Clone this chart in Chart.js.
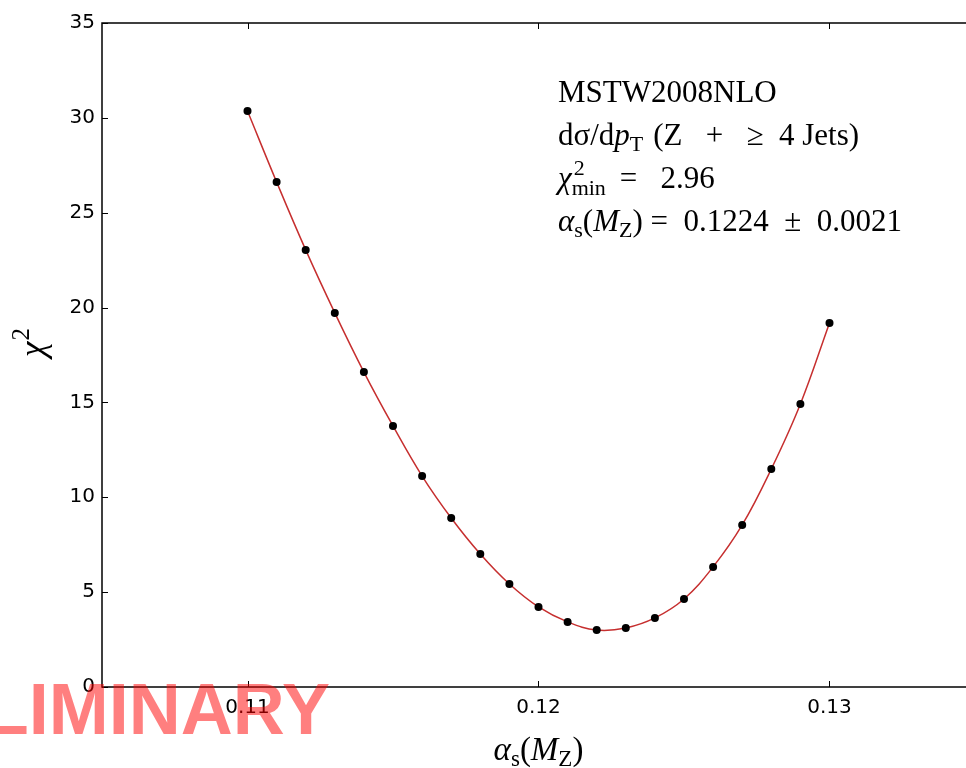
<!DOCTYPE html>
<html>
<head>
<meta charset="utf-8">
<script src="https://cdn.jsdelivr.net/npm/chart.js@4/dist/chart.umd.min.js"></script>
<style>
  html, body { margin: 0; padding: 0; background: #ffffff; overflow: hidden; }
  #wrap { width: 1000px; height: 768px; }
  canvas { display: block; }
</style>
</head>
<body>
<div id="wrap"><canvas id="c" width="1000" height="768"></canvas></div>
<script>
// ---- data ----
const alphaS = [0.110, 0.111, 0.112, 0.113, 0.114, 0.115, 0.116, 0.117, 0.118, 0.119, 0.120,
                0.121, 0.122, 0.123, 0.124, 0.125, 0.126, 0.127, 0.128, 0.129, 0.130];
const chi2   = [30.36, 26.62, 23.04, 19.72, 16.60, 13.76, 11.12, 8.91, 7.01, 5.43, 4.22,
                3.43, 3.00, 3.11, 3.64, 4.64, 6.33, 8.54, 11.49, 14.92, 19.19];
const xTickValues = [0.11, 0.12, 0.13];
const xTickLabels = ['0.11', '0.12', '0.13'];
const yTickValues = [0, 5, 10, 15, 20, 25, 30, 35];
const yTickLabels = ['0', '5', '10', '15', '20', '25', '30', '35'];
const xRange = [0.105, 0.135];
const yRange = [0, 35];
const infoTitle = 'MSTW2008NLO';
const chi2Min = '2.96';
const alphaFit = '0.1224';
const alphaErr = '0.0021';
const watermark = 'PRELIMINARY';

const points = alphaS.map((x, i) => ({ x: x, y: chi2[i] }));

const SERIF = '"Liberation Serif", "DejaVu Serif", serif';

function drawRuns(ctx, x, y, runs, base, align) {
  let total = 0;
  const fontOf = r => (r.it ? 'italic ' : '') + Math.round(base * (r.s || 1)) + 'px ' + SERIF;
  runs.forEach(r => { ctx.font = fontOf(r); r._w = ctx.measureText(r.t).width; if (!r.na) total += r._w + (r.gap || 0); });
  let cx = align === 'center' ? x - total / 2 : x;
  ctx.textAlign = 'left';
  ctx.textBaseline = 'alphabetic';
  runs.forEach(r => {
    ctx.font = fontOf(r);
    ctx.fillText(r.t, cx + (r.dx || 0), y + (r.dy || 0));
    if (!r.na) cx += r._w + (r.gap || 0);
  });
}

const decorPlugin = {
  id: 'decor',
  afterDatasetsDraw(chart) {
    const ctx = chart.ctx;
    const a = chart.chartArea;
    const xs = chart.scales.x, ys = chart.scales.y;
    ctx.save();
    // frame
    ctx.strokeStyle = '#000';
    ctx.lineWidth = 1.5;
    ctx.strokeRect(a.left, a.top, a.right - a.left, a.bottom - a.top);
    // inward ticks on all four sides
    ctx.lineWidth = 1;
    ctx.beginPath();
    const tl = 6;
    xTickValues.forEach(v => {
      const px = Math.round(xs.getPixelForValue(v)) + 0.5;
      ctx.moveTo(px, a.bottom); ctx.lineTo(px, a.bottom - tl);
      ctx.moveTo(px, a.top); ctx.lineTo(px, a.top + tl);
    });
    yTickValues.forEach(v => {
      const py = Math.round(ys.getPixelForValue(v)) + 0.5;
      ctx.moveTo(a.left, py); ctx.lineTo(a.left + tl, py);
      ctx.moveTo(a.right, py); ctx.lineTo(a.right - tl, py);
    });
    ctx.stroke();

    // info text block
    ctx.fillStyle = '#000';
    const B = 31, x0 = 558;
    drawRuns(ctx, x0, 102, [{ t: infoTitle }], B);
    drawRuns(ctx, x0, 145, [
      { t: 'dσ/d' }, { t: 'p', it: true }, { t: 'T', s: 0.7, dy: 6, gap: 10 },
      { t: '(Z   +   ≥  4 Jets)' }
    ], B);
    drawRuns(ctx, x0, 188, [
      { t: 'χ', it: true }, { t: '2', s: 0.7, dy: -13, na: true, dx: 2 },
      { t: 'min', s: 0.7, dy: 7, gap: 14 }, { t: '=   ' + chi2Min }
    ], B);
    drawRuns(ctx, x0, 231, [
      { t: 'α', it: true }, { t: 's', s: 0.7, dy: 6 }, { t: '(' }, { t: 'M', it: true },
      { t: 'Z', s: 0.7, dy: 6 }, { t: ') =  ' + alphaFit + '  ±  ' + alphaErr }
    ], B);

    // x axis label
    drawRuns(ctx, (a.left + a.right) / 2, 760, [
      { t: 'α', it: true }, { t: 's', s: 0.7, dy: 6 }, { t: '(' }, { t: 'M', it: true },
      { t: 'Z', s: 0.7, dy: 6 }, { t: ')' }
    ], 33, 'center');

    // y axis label (rotated)
    ctx.save();
    ctx.translate(44, (a.top + a.bottom) / 2 - 12);
    ctx.rotate(-Math.PI / 2);
    drawRuns(ctx, 0, 0, [{ t: 'χ', it: true }, { t: '2', s: 0.7, dy: -15, dx: 1 }], 35, 'center');
    ctx.restore();

    // watermark
    ctx.font = 'bold 72px "Liberation Sans", Arial, sans-serif';
    ctx.fillStyle = 'rgba(255, 0, 0, 0.5)';
    ctx.textAlign = 'right';
    ctx.textBaseline = 'alphabetic';
    ctx.fillText(watermark, 330, 734);
    ctx.restore();
  }
};

new Chart(document.getElementById('c'), {
  type: 'scatter',
  data: {
    datasets: [
      {
        label: 'points',
        data: points,
        showLine: false,
        pointRadius: 4,
        pointHoverRadius: 4,
        pointBackgroundColor: '#000',
        pointBorderColor: '#000',
        pointBorderWidth: 0,
        order: 0
      },
      {
        label: 'fit',
        data: points,
        showLine: true,
        borderColor: '#c62f2f',
        borderWidth: 1.5,
        tension: 0.4,
        pointRadius: 0,
        fill: false,
        order: 1
      }
    ]
  },
  options: {
    responsive: false,
    animation: false,
    events: [],
    layout: { padding: { top: 23, right: 25, left: 0, bottom: 0 } },
    plugins: { legend: { display: false }, tooltip: { enabled: false } },
    scales: {
      x: {
        type: 'linear',
        min: xRange[0], max: xRange[1],
        afterBuildTicks: s => { s.ticks = xTickValues.map(v => ({ value: v })); },
        afterFit: s => { s.height = 81; },
        grid: { display: false, drawTicks: false },
        border: { display: false },
        ticks: {
          padding: 9,
          maxRotation: 0,
          autoSkip: false,
          color: '#000',
          font: { family: '"DejaVu Sans", sans-serif', size: 20 },
          callback: (v, i) => xTickLabels[i]
        }
      },
      y: {
        type: 'linear',
        min: yRange[0], max: yRange[1],
        afterBuildTicks: s => { s.ticks = yTickValues.map(v => ({ value: v })); },
        afterFit: s => { s.width = 102; },
        grid: { display: false, drawTicks: false },
        border: { display: false },
        ticks: {
          padding: 7,
          autoSkip: false,
          color: '#000',
          font: { family: '"DejaVu Sans", sans-serif', size: 20 },
          callback: (v, i) => yTickLabels[i]
        }
      }
    }
  },
  plugins: [decorPlugin]
});
</script>
</body>
</html>
